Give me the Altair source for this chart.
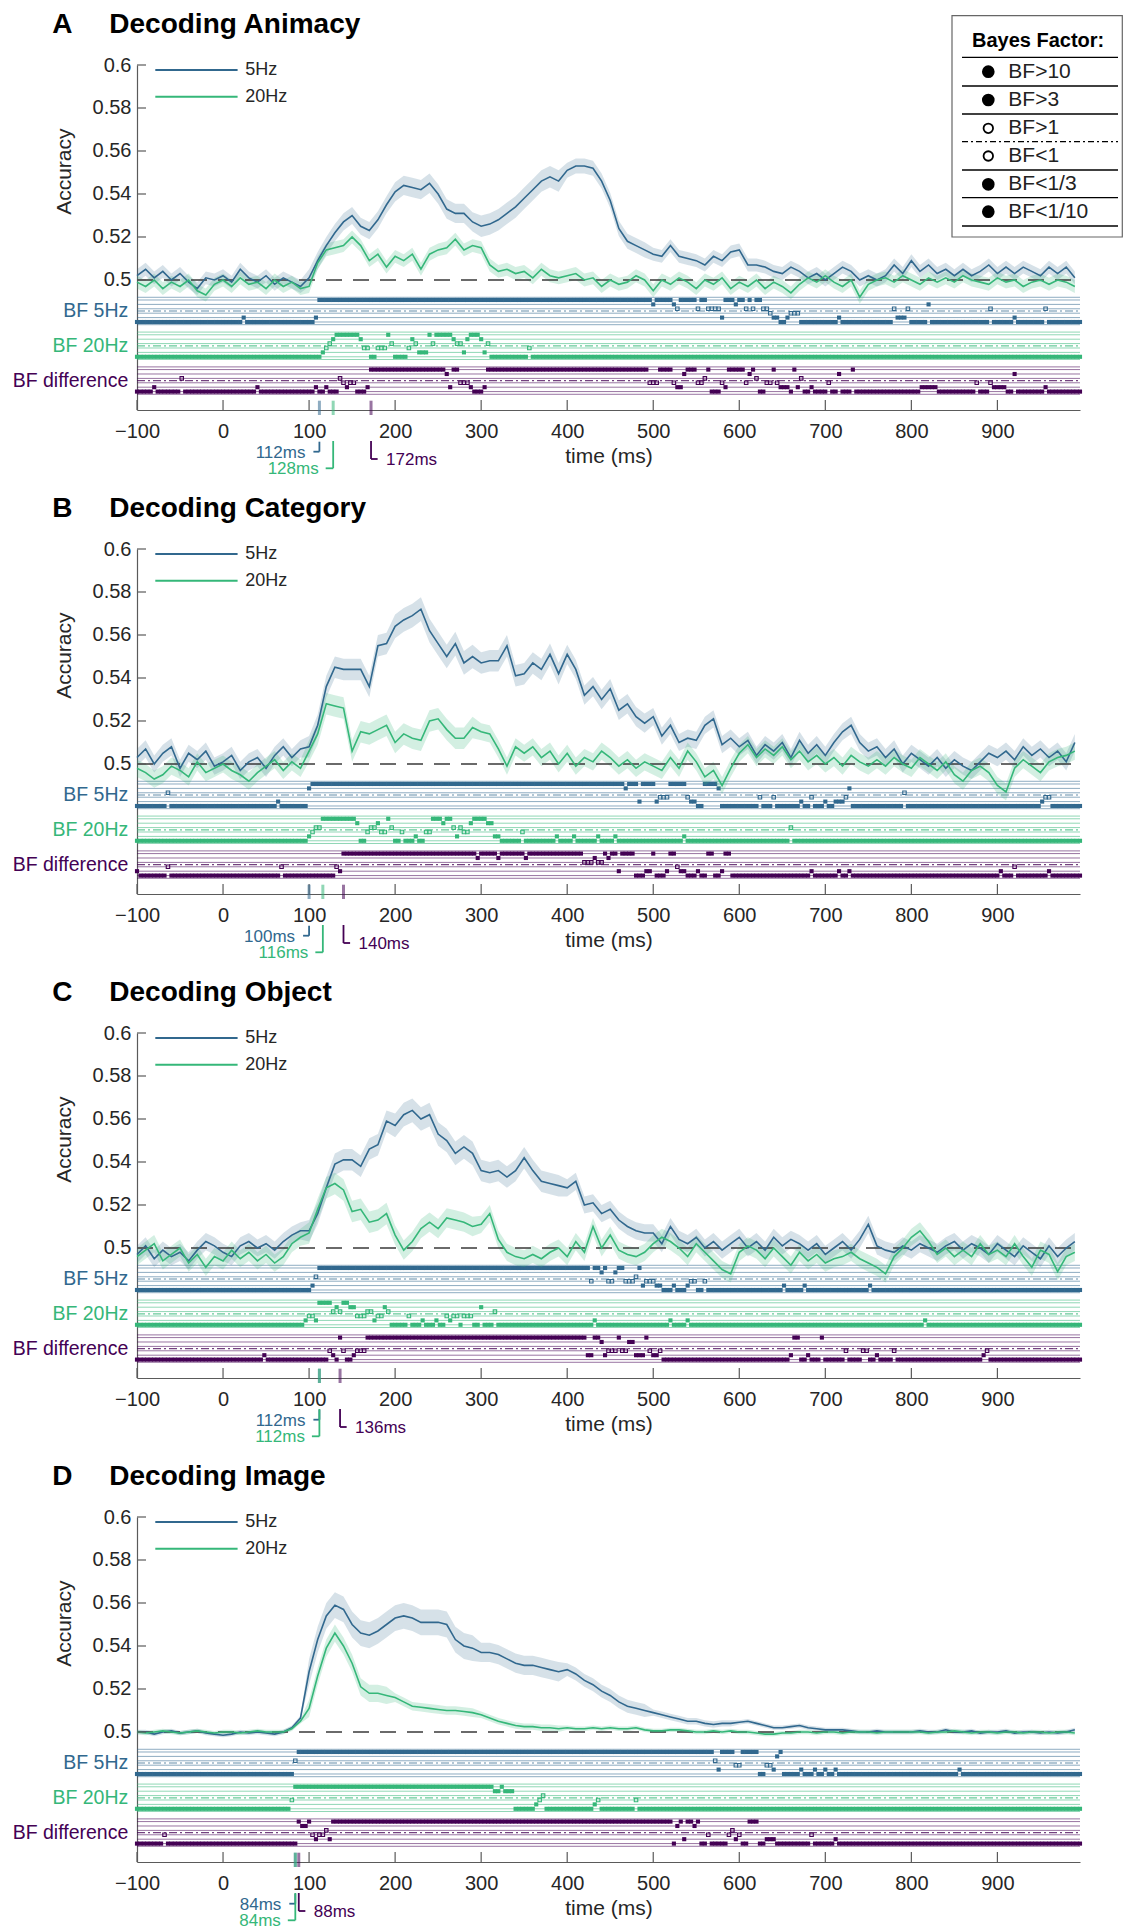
import altair as alt
import pandas as pd

alt.data_transformers.disable_max_rows()

FONT = "Liberation Sans"
C5, C20, CD = "#31688e", "#35b779", "#440154"
W, H = 943, 345
XMIN, XMAX = -100, 996
YMIN, YMAX = 0.43953, 0.6
PXU = H / (YMAX - YMIN)

# ---------------- data ----------------
acc_times = list(range(-100, 1000, 10))
x_tick_values = list(range(-100, 1000, 100))
y_tick_values = [0.5, 0.52, 0.54, 0.56, 0.58, 0.6]
series_names = ["5Hz", "20Hz"]
bf_sections = ["5Hz", "20Hz", "difference"]
bf_level_labels = ["BF>10", "BF>3", "BF>1", "BF<1", "BF<1/3", "BF<1/10"]
panel_letters = ["A", "B", "C", "D"]
panel_titles = ["Decoding Animacy", "Decoding Category", "Decoding Object", "Decoding Image"]

# accuracy (per mille), one value every 10 ms from -100 to 990
accA_5 = [502,505,501,504,500,503,499,496,501,500,
          502,499,505,501,499,502,498,501,499,497,
          501,509,516,522,527,530,525,523,528,535,
          541,544,543,542,545,540,533,531,531,527,
          525,526,528,531,534,538,542,546,548,546,
          551,553,553,552,546,537,524,518,516,514,
          512,511,516,511,510,509,507,511,509,513,
          514,507,507,506,504,503,506,504,501,503,
          500,503,506,504,500,502,500,502,507,503,
          509,504,507,503,505,502,505,502,504,507,
          503,506,503,506,504,502,506,503,506,501]
accA_20 = [499,497,500,496,499,497,500,495,493,498,
           500,497,501,498,499,496,500,497,499,496,
           497,508,514,515,516,520,516,509,512,506,
           511,509,512,505,512,514,515,519,514,516,
           515,507,504,505,503,504,501,505,502,501,
           502,503,500,501,497,500,498,499,502,500,
           495,500,498,501,499,496,500,498,501,496,
           499,497,500,496,499,497,494,498,501,499,
           502,499,497,500,492,498,500,501,499,502,
           500,498,501,499,501,499,502,500,499,498,
           501,499,500,497,499,500,498,500,499,497]
accB_5 = [503,507,500,505,508,498,505,502,506,499,
          501,504,497,501,503,498,504,508,503,507,
          508,518,536,545,544,544,544,536,555,556,
          564,567,569,572,562,556,550,556,547,550,
          547,548,548,555,541,542,547,544,551,542,
          551,544,532,536,530,535,525,528,522,519,
          522,513,518,510,512,511,518,521,509,512,
          508,511,504,509,506,510,503,511,505,509,
          504,510,515,518,510,506,508,503,507,500,
          505,502,499,503,498,502,499,497,501,505,
          503,506,502,508,504,507,503,506,501,510]
accB_20 = [498,496,493,495,499,497,494,501,496,498,
           500,497,495,492,496,499,502,497,501,498,
           506,514,528,527,526,506,515,514,516,518,
           510,514,512,511,520,521,516,512,512,517,
           515,514,507,499,508,505,508,503,506,500,
           505,499,503,501,506,503,499,502,498,501,
           499,497,503,498,506,501,494,497,490,498,
           505,509,503,507,504,508,502,506,501,504,
           500,503,499,504,501,499,502,499,503,500,
           498,503,500,497,501,495,492,497,499,496,
           490,487,498,502,499,496,501,503,504,506]
accC_5 = [497,501,495,499,496,498,494,499,503,501,
          498,496,501,503,500,502,499,503,506,508,
          508,516,528,539,541,541,538,546,548,559,
          557,562,564,560,562,553,550,544,547,544,
          536,535,536,533,536,542,536,531,530,529,
          528,531,520,521,516,518,513,510,508,507,
          507,502,510,504,502,505,500,503,499,502,
          505,500,503,499,505,501,504,502,499,502,
          497,500,503,499,504,511,501,499,498,501,
          499,502,500,498,501,503,499,502,500,497,
          502,499,496,501,498,495,501,496,500,503]
accC_20 = [496,499,502,494,497,500,493,497,491,496,
           494,499,495,498,494,497,493,496,502,505,
           507,518,528,530,527,517,518,512,513,516,
           506,499,503,509,512,509,514,513,512,510,
           511,516,504,498,496,495,497,495,498,500,
           496,503,498,510,500,506,499,497,496,498,
           502,505,503,500,496,502,498,494,490,488,
           498,501,499,495,500,496,492,498,494,497,
           493,495,496,498,495,493,491,488,496,500,
           505,508,503,497,500,496,499,496,502,497,
           499,496,502,496,491,499,497,489,496,498]
accD_5 = [500,500,499,500,500.5,499.5,500,500.5,499.5,499,
          498.5,499,500,499.5,500,499.5,499,500,502,506.5,
          528,543,554,559,557,550,546,545,547,550,
          553,554,553,551,551,551,550,543,540,539,
          537,537,536,534,532,531,531,530,529,528,
          529,527,524,522,519,517,514,512,511,510,
          509,508,507,506,505,505,504,503.5,504,504,
          504.5,505,504,503,502,502,502.5,503,502,501.5,
          501,501,501,500.5,500,500,500.5,500,500,500,
          500,500.5,500,500,501,500,500,500.5,499.5,500,
          500,500.5,499.5,500,500,499.5,500,499.5,500,501]
accD_20 = [500,499.5,500,500.5,500,499.5,500,500.5,500,499.5,
           500,500,499.5,500,500.5,500,500,500,501.5,505,
           511,526,539,546,540,532,521,518,518,517,
           516,514,512,511.5,511,510.5,510,510,509.5,509,
           508,506.5,505,504,503,502.5,502.5,502,502,501.5,
           502,501.5,501.5,502,501.5,502,501.5,501.5,502,501,
           500.5,500.5,501,501,500.5,500,500,500.5,500,500.5,
           500,500,499.5,499,499,499.5,499.5,500,500,499.5,
           500,500,499.5,500,500,500,499.5,500,500,500,
           500,500,499.5,500,500,500.5,500,499.5,500,500,
           499.5,500,500,499.5,500,500,499.5,500,500,499.5]

# standard error (per mille), one value per 100 ms block
seA_5 = [3, 3, 4, 4.5, 5, 3.5, 3, 3, 3, 3, 3]
seA_20 = [3, 3, 3, 3, 3, 3, 3, 3, 3, 3, 3]
seB_5 = [4, 4, 5, 5.5, 5, 4.5, 4, 4, 4, 4, 4]
seB_20 = [4, 4, 5, 5, 4, 4, 4, 4, 4, 4, 4]
seC_5 = [4, 4, 5, 5.5, 5, 4, 4, 4, 4, 4, 4]
seC_20 = [4, 4, 5, 4.5, 4, 4, 4, 4, 4, 4, 4]
seD_5 = [1, 1, 6, 6, 4.5, 3, 1.5, 1, 1, 1, 1]
seD_20 = [1, 1, 4, 2, 1.5, 1, 1, 1, 1, 1, 1]

# Bayes factor runs: (first ms, last ms, level) sampled every 4 ms; level 1 = BF>10 ... 6 = BF<1/10
bfA_5 = [(-100,20,6),(24,24,5),(28,104,6),(108,108,5),(112,496,1),(500,500,2),(504,520,1),(524,524,2),
         (528,528,3),(532,548,1),(552,552,3),(556,560,1),(564,576,3),(580,580,5),(584,592,1),(596,596,2),
         (600,604,1),(608,608,3),(612,612,1),(616,616,3),(620,624,1),(628,632,3),(636,636,4),(640,644,5),
         (648,652,6),(656,656,5),(660,668,4),(672,712,6),(716,716,5),(720,776,6),(780,780,3),(784,792,5),
         (796,796,3),(800,816,6),(820,820,2),(824,888,6),(892,892,3),(896,916,6),(920,920,5),(924,952,6),
         (956,956,3),(960,996,6)]
bfA_20 = [(-100,112,6),(116,116,5),(120,120,4),(124,124,3),(128,128,2),(132,156,1),(160,160,2),(164,168,4),
          (172,176,6),(180,188,4),(192,192,1),(196,196,3),(200,212,6),(216,216,4),(220,220,2),(224,224,3),
          (228,236,5),(240,240,1),(244,244,3),(248,264,1),(268,268,2),(272,276,3),(280,280,5),(284,284,2),
          (288,296,1),(300,300,2),(304,304,5),(308,308,3),(312,352,6),(356,356,4),(360,996,6)]
bfA_d = [(-100,-84,6),(-80,-80,5),(-76,-52,6),(-48,-48,3),(-44,36,6),(40,40,5),(44,104,6),(108,108,5),
         (112,116,6),(120,120,5),(124,132,6),(136,136,3),(140,140,4),(144,144,5),(148,152,4),(156,164,6),
         (168,168,5),(172,256,1),(260,260,2),(264,264,5),(268,272,1),(276,284,4),(288,288,5),(292,300,6),
         (304,304,5),(308,492,1),(496,504,4),(508,520,1),(524,524,4),(528,532,5),(536,536,2),(540,548,1),
         (552,556,4),(560,560,3),(564,564,1),(568,576,6),(580,580,4),(584,584,5),(588,604,1),(608,608,4),
         (612,612,2),(616,616,1),(620,620,3),(624,628,6),(632,636,4),(640,640,1),(644,644,4),(648,656,5),
         (660,660,6),(664,664,1),(668,668,5),(672,672,3),(676,680,6),(684,684,5),(688,700,6),(704,704,4),
         (708,712,6),(716,716,2),(720,728,6),(732,732,1),(736,808,6),(812,828,5),(832,872,6),(876,876,4),
         (880,888,6),(892,892,4),(896,908,5),(912,916,6),(920,920,2),(924,952,6),(956,956,5),(960,996,6)]
bfB_5 = [(-100,-68,6),(-64,-64,3),(-60,60,6),(64,64,5),(68,96,6),(100,100,2),(104,464,1),(468,468,2),
         (472,480,1),(484,484,5),(488,500,1),(504,504,5),(508,516,4),(520,536,1),(540,540,4),(544,548,5),
         (552,556,6),(560,572,1),(576,576,2),(580,620,6),(624,624,4),(628,636,6),(640,640,4),(644,668,6),
         (672,672,5),(676,680,6),(684,684,4),(688,696,6),(700,700,5),(704,708,6),(712,720,5),(724,724,4),
         (728,728,2),(732,788,6),(792,792,3),(796,948,6),(952,952,5),(956,960,4),(964,996,6)]
bfB_20 = [(-100,96,6),(100,100,5),(104,104,4),(108,112,3),(116,152,1),(156,156,2),(160,164,6),(168,168,4),
          (172,176,3),(180,180,2),(184,188,4),(192,192,1),(196,196,3),(200,204,6),(208,208,4),(212,220,6),
          (224,224,5),(228,232,6),(236,240,4),(244,252,1),(256,256,2),(260,264,1),(268,268,3),(272,272,5),
          (276,276,3),(280,284,4),(288,288,2),(292,304,1),(308,312,2),(316,320,5),(324,344,6),(348,348,4),
          (352,384,6),(388,388,5),(392,404,6),(408,408,5),(412,432,6),(436,436,5),(440,452,6),(456,456,5),
          (460,532,6),(536,536,5),(540,656,6),(660,660,3),(664,996,6)]
bfB_d = [(-100,-100,5),(-96,-68,6),(-64,-64,4),(-60,64,6),(68,68,4),(72,128,6),(132,132,4),(136,136,5),
         (140,292,1),(296,296,2),(300,316,1),(320,320,2),(324,348,1),(352,352,2),(356,416,1),(420,428,3),
         (432,432,2),(436,440,3),(444,444,1),(448,448,2),(452,456,1),(460,460,5),(464,476,1),(480,488,6),
         (492,496,5),(500,500,1),(504,512,6),(516,516,5),(520,524,1),(528,528,4),(532,536,5),(540,548,6),
         (552,552,5),(556,560,6),(564,568,1),(572,576,6),(580,580,5),(584,588,1),(592,680,6),(684,684,5),
         (688,712,6),(716,716,5),(720,724,6),(728,728,5),(732,900,6),(904,904,5),(908,916,6),(920,920,4),
         (924,956,6),(960,960,5),(964,996,6)]
bfC_5 = [(-100,100,6),(104,104,5),(108,108,3),(112,424,1),(428,428,4),(432,436,1),(440,440,2),(444,444,1),
         (448,452,4),(456,456,2),(460,464,1),(468,476,4),(480,480,3),(484,484,1),(488,488,5),(492,500,4),
         (504,508,5),(512,520,6),(524,524,5),(528,536,6),(540,540,5),(544,548,4),(552,556,6),(560,560,4),
         (564,648,6),(652,652,5),(656,672,6),(676,676,5),(680,748,6),(752,752,5),(756,996,6)]
bfC_20 = [(-100,92,6),(96,96,5),(100,104,4),(108,108,5),(112,124,1),(128,128,3),(132,132,2),(136,136,3),
          (140,144,1),(148,152,2),(156,164,4),(168,172,3),(176,176,5),(180,184,4),(188,188,2),(192,192,3),
          (196,212,6),(216,216,4),(220,228,6),(232,232,5),(236,244,6),(248,248,5),(252,256,6),(260,260,4),
          (264,264,5),(268,272,4),(276,276,6),(280,288,4),(292,296,6),(300,300,2),(304,312,6),(316,316,3),
          (320,428,6),(432,432,5),(436,516,6),(520,520,5),(524,536,6),(540,540,5),(544,812,6),(816,816,5),
          (820,996,6)]
bfC_d = [(-100,44,6),(48,48,5),(52,120,6),(124,124,4),(128,128,5),(132,132,6),(136,136,1),(140,140,4),
         (144,148,6),(152,152,5),(156,164,4),(168,420,1),(424,428,5),(432,436,1),(440,440,2),(444,444,5),
         (448,456,4),(460,460,1),(464,468,4),(472,476,2),(480,488,5),(492,492,1),(496,496,4),(500,504,5),
         (508,508,4),(512,656,6),(660,660,5),(664,668,1),(672,676,6),(680,680,5),(684,692,6),(696,696,1),
         (700,720,6),(724,724,4),(728,740,6),(744,748,4),(752,756,6),(760,760,5),(764,776,6),(780,780,4),
         (784,880,6),(884,884,5),(888,888,4),(892,996,6)]
bfD_5 = [(-100,80,6),(84,84,3),(88,568,1),(572,572,3),(576,576,5),(580,592,1),(596,600,4),(604,620,1),
         (624,628,6),(632,636,4),(640,640,5),(644,644,2),(648,648,1),(652,668,6),(672,672,5),(676,684,6),
         (688,688,5),(692,696,6),(700,700,5),(704,708,6),(712,712,5),(716,852,6),(856,856,5),(860,996,6)]
bfD_20 = [(-100,76,6),(80,80,4),(84,312,1),(316,320,2),(324,324,1),(328,336,2),(340,360,6),(364,364,5),
          (368,368,4),(372,372,3),(376,428,6),(432,432,5),(436,436,4),(440,476,6),(480,480,4),(484,996,6)]
bfD_d = [(-100,-72,6),(-68,-68,4),(-64,84,6),(88,88,1),(92,96,2),(100,100,1),(104,104,4),(108,108,5),
         (112,116,4),(120,120,3),(124,124,5),(128,520,1),(524,524,6),(528,528,2),(532,532,1),(536,536,5),
         (540,544,1),(548,548,2),(552,552,1),(556,560,6),(564,564,4),(568,584,6),(588,588,4),(592,592,3),
         (596,596,5),(600,600,4),(604,608,6),(612,620,1),(624,628,6),(632,640,5),(644,680,6),(684,684,4),
         (688,708,6),(712,712,5),(716,996,6)]

# onset latency (ms) of first sustained BF>10: 5Hz, 20Hz, difference
onsetA = [112, 128, 172]
onsetB = [100, 116, 140]
onsetC = [112, 112, 136]
onsetD = [84, 84, 88]

panel_acc = [(accA_5, accA_20), (accB_5, accB_20), (accC_5, accC_20), (accD_5, accD_20)]
panel_se = [(seA_5, seA_20), (seB_5, seB_20), (seC_5, seC_20), (seD_5, seD_20)]
panel_bf = [(bfA_5, bfA_20, bfA_d), (bfB_5, bfB_20, bfB_d), (bfC_5, bfC_20, bfC_d), (bfD_5, bfD_20, bfD_d)]
panel_onset = [onsetA, onsetB, onsetC, onsetD]

# ---------------- layout helpers ----------------
SEC_TOP = [20.0, 54.8, 89.6]   # px below the 0.5 line, top BF row of each section
LEV = 4.4                      # px between BF rows


def off_val(off):
    return 0.5 - off / PXU


xs = alt.Scale(domain=[XMIN, XMAX], nice=False, zero=False)
ys = alt.Scale(domain=[YMIN, YMAX], nice=False, zero=False)
sec_scale = alt.Scale(domain=bf_sections, range=[C5, C20, CD])

x_axis = alt.Axis(values=x_tick_values, format="d", ticks=False, tickSize=0, labelPadding=11,
                  labelFontSize=20, labelColor="#262626", labelFont=FONT, labelFlush=False,
                  labelOverlap=False, domainColor="#5a5a5a", domainWidth=1.2, grid=False, title=None)
y_axis = alt.Axis(values=y_tick_values, format=".2~f", ticks=False, tickSize=0, labelPadding=6,
                  labelFontSize=20, labelColor="#262626", labelFont=FONT, labelFlush=False,
                  labelOverlap=False, domainColor="#5a5a5a", domainWidth=1.2, grid=False, title=None)

X = alt.X("t:Q", scale=xs, axis=x_axis)


def Yf(field):
    return alt.Y(field, scale=ys, axis=y_axis)


one = pd.DataFrame({"a": [0]})


def text(s, x, y, size, color="#262626", align="left", baseline="middle", weight="normal", angle=0):
    return alt.Chart(one).mark_text(text=s, align=align, baseline=baseline, fontSize=size,
                                    fontWeight=weight, color=color, font=FONT, angle=angle).encode(
        x=alt.value(x), y=alt.value(y))


def hline(x1, x2, y, color, width=1.0, dash=None):
    kw = dict(color=color, strokeWidth=width)
    if dash:
        kw["strokeDash"] = dash
    return alt.Chart(one).mark_rule(**kw).encode(x=alt.value(x1), x2=alt.value(x2), y=alt.value(y))


# BF guide lines (same for every panel)
line_rows, dd_rows = [], []
for s, sec in enumerate(bf_sections):
    top = SEC_TOP[s]
    for k in range(6):
        line_rows.append({"sec": sec, "y": off_val(top + LEV * k)})
    line_rows.append({"sec": sec, "y": off_val(top - 2.7)})
    line_rows.append({"sec": sec, "y": off_val(top + 5 * LEV + 2.7)})
    dd_rows.append({"sec": sec, "y": off_val(top + 2.5 * LEV)})
bf_lines_df = pd.DataFrame(line_rows)
bf_dd_df = pd.DataFrame(dd_rows)


def build_panel(i):
    acc5, acc20 = panel_acc[i]
    se5, se20 = panel_se[i]
    rows = []
    for name, vals, se in (("5Hz", acc5, se5), ("20Hz", acc20, se20)):
        for t, v in zip(acc_times, vals):
            e = se[(t + 100) // 100]
            rows.append({"t": t, "v": v / 1000, "lo": (v - e) / 1000, "hi": (v + e) / 1000, "series": name})
    acc = pd.DataFrame(rows)

    dots = []
    for s, segs in enumerate(panel_bf[i]):
        for t0, t1, lv in segs:
            for t in range(t0, t1 + 1, 4):
                dots.append({"t": t, "sec": bf_sections[s], "lv": lv,
                             "y": off_val(SEC_TOP[s] + LEV * (lv - 1)), "filled": lv not in (3, 4)})
    dots = pd.DataFrame(dots)

    col = alt.Color("sec:N", scale=sec_scale, legend=None)
    layers = []
    # invisible extent marker (fixes panel box)
    layers.append(alt.Chart(one).mark_rule(color="white", strokeWidth=0.5).encode(
        x=alt.value(-136.5), x2=alt.value(-136.5), y=alt.value(-64.3), y2=alt.value(418.5)))
    layers.append(alt.Chart(bf_lines_df).mark_rule(strokeWidth=1, opacity=0.55).encode(
        y=Yf("y:Q"), x=alt.value(0), x2=alt.value(W), color=col))
    layers.append(alt.Chart(bf_dd_df).mark_rule(strokeWidth=1.2, opacity=0.75, strokeDash=[8, 3, 2, 3]).encode(
        y=Yf("y:Q"), x=alt.value(0), x2=alt.value(W), color=col))
    layers.append(alt.Chart(dots[dots["filled"]]).mark_point(filled=True, shape="square", size=17, opacity=1).encode(
        x=X, y=Yf("y:Q"), color=col))
    layers.append(alt.Chart(dots[~dots["filled"]]).mark_point(filled=False, shape="square", size=12,
                                                              strokeWidth=1.1, opacity=1).encode(
        x=X, y=Yf("y:Q"), color=col))
    # bands
    for name, c, op in (("5Hz", C5, 0.2), ("20Hz", C20, 0.22)):
        layers.append(alt.Chart(acc[acc["series"] == name]).mark_area(color=c, opacity=op).encode(
            x=X, y=Yf("lo:Q"), y2="hi:Q"))
    # chance line
    layers.append(alt.Chart(pd.DataFrame({"y": [0.5]})).mark_rule(
        color="#3a3a3a", strokeWidth=1.3, strokeDash=[16, 11]).encode(
        y=Yf("y:Q"), x=alt.value(0), x2=alt.value(W)))
    # lines
    layers.append(alt.Chart(acc[acc["series"] == "5Hz"]).mark_line(color=C5, strokeWidth=1.6).encode(
        x=X, y=Yf("v:Q")))
    layers.append(alt.Chart(acc[acc["series"] == "20Hz"]).mark_line(color=C20, strokeWidth=1.6).encode(
        x=X, y=Yf("v:Q")))
    # inward ticks
    layers.append(alt.Chart(pd.DataFrame({"t": x_tick_values})).mark_rule(color="#5a5a5a", strokeWidth=1.2).encode(
        x=X, y=alt.value(H - 10), y2=alt.value(H)))
    layers.append(alt.Chart(pd.DataFrame({"v": y_tick_values})).mark_rule(color="#5a5a5a", strokeWidth=1.2).encode(
        y=Yf("v:Q"), x=alt.value(0), x2=alt.value(9)))
    # titles & labels
    layers.append(text(panel_letters[i], -84.7, -31.7, 28, "black", baseline="alphabetic", weight="bold"))
    layers.append(text(panel_titles[i], -27.7, -31.7, 28, "black", baseline="alphabetic", weight="bold"))
    layers.append(text("Accuracy", -71.7, 106.7, 21, align="center", angle=270))
    layers.append(text("time (ms)", 472, 392, 21, align="center"))
    y05 = H * (YMAX - 0.5) / (YMAX - YMIN)
    for s, (lab, c) in enumerate(zip(["BF 5Hz", "BF 20Hz", "BF difference"], [C5, C20, CD])):
        layers.append(text(lab, -8.7, y05 + SEC_TOP[s] + 2.5 * LEV, 19.5, c, align="right"))
    # series legend
    for name, c, yy in (("5Hz", C5, 5), ("20Hz", C20, 31.7)):
        layers.append(hline(18.3, 100.6, yy, c, 2))
        layers.append(text(name, 108.3, yy, 18))
    # onset markers
    on = panel_onset[i]
    cols = [C5, C20, CD]
    for k in range(3):
        d = pd.DataFrame({"t": [on[k]], "lab": [f"{on[k]}ms"]})
        layers.append(alt.Chart(d).mark_rule(color=cols[k], strokeWidth=3, opacity=0.55).encode(
            x=X, y=alt.value(H - 9.3), y2=alt.value(H + 5)))
    geo = [(31.7, 41.7, -6, "right", -14, 42.7),
           (31.0, 58.3, -7.5, "right", -14.5, 59.0),
           (31.0, 49.0, 6.6, "left", 15, 50.0)]
    for k in (2, 0, 1):
        d = pd.DataFrame({"t": [on[k]], "lab": [f"{on[k]}ms"]})
        v0, v1, hx, al, dx, ty = geo[k]
        layers.append(alt.Chart(d).mark_rule(color=cols[k], strokeWidth=1.8).encode(
            x=X, y=alt.value(H + v0), y2=alt.value(H + v1)))
        if hx < 0:
            layers.append(alt.Chart(d).mark_rule(color=cols[k], strokeWidth=1.8, xOffset=hx).encode(
                x=X, x2="t:Q", y=alt.value(H + v1)))
        else:
            layers.append(alt.Chart(d).mark_rule(color=cols[k], strokeWidth=1.8, x2Offset=hx).encode(
                x=X, x2="t:Q", y=alt.value(H + v1)))
        layers.append(alt.Chart(d).mark_text(align=al, baseline="middle", dx=dx, fontSize=17,
                                             color=cols[k], font=FONT).encode(
            x=X, y=alt.value(H + ty), text="lab:N"))

    if i == 0:
        # Bayes factor key
        layers.append(alt.Chart(one).mark_rect(fill="white", stroke="#666", strokeWidth=1.2).encode(
            x=alt.value(815), x2=alt.value(985.3), y=alt.value(-49.3), y2=alt.value(172)))
        layers.append(text("Bayes Factor:", 835, -24.3, 20, "black", weight="bold"))
        seps = [-7.7, 21, 49, 76.7, 105, 132.7, 161]
        for j, yy in enumerate(seps):
            layers.append(hline(825, 981, yy, "black", 1.3, [6, 3, 2, 3] if j == 3 else None))
        centers = [6.7, 35, 63.3, 91, 119.3, 146.7]
        for j, (lab, yy) in enumerate(zip(bf_level_labels, centers)):
            filled = j not in (2, 3)
            pm = alt.Chart(one).mark_point(shape="circle", filled=filled, color="black",
                                           size=160 if filled else 90, strokeWidth=1.8, opacity=1).encode(
                x=alt.value(851.3), y=alt.value(yy))
            layers.append(pm)
            layers.append(text(lab, 871.3, yy, 21, "#222"))

    return alt.layer(*layers).properties(width=W, height=H)


chart = alt.vconcat(*[build_panel(i) for i in range(4)], spacing=0, bounds="full").properties(
    padding=0).configure(font=FONT).configure_view(stroke=None)

chart.save("out.html", embed_options={"renderer": "svg", "actions": False})
